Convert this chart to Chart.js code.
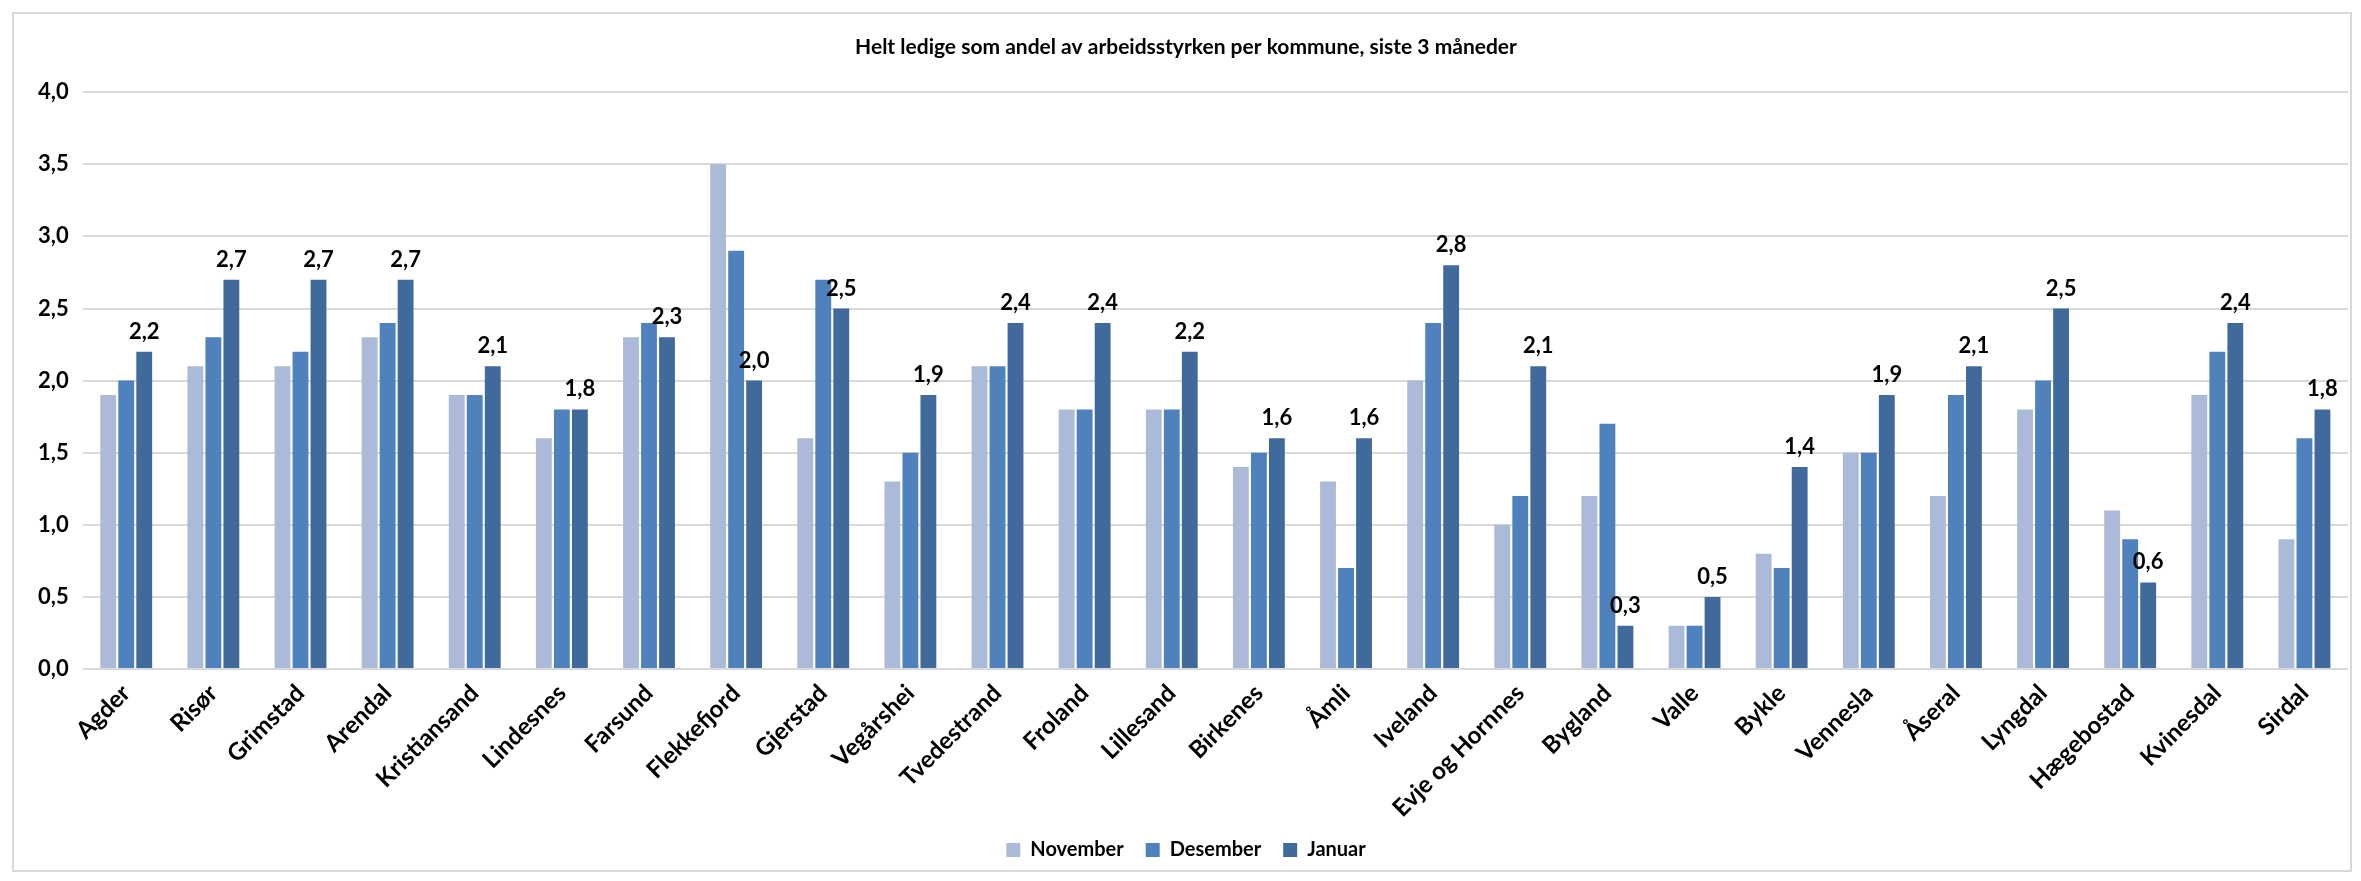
<!DOCTYPE html>
<html>
<head>
<meta charset="utf-8">
<script src="https://cdn.jsdelivr.net/npm/chart.js@4"></script>
<style>
  html, body { margin: 0; padding: 0; background: #fff; }
  #frame {
    position: absolute; left: 12px; top: 12px;
    width: 2336px; height: 856px;
    border: 2px solid #d9d9d9;
  }
</style>
</head>
<body>
<div id="frame"><canvas id="chart"></canvas></div>
<script>
const kommuner = [
  "Agder", "Risør", "Grimstad", "Arendal", "Kristiansand", "Lindesnes", "Farsund",
  "Flekkefjord", "Gjerstad", "Vegårshei", "Tvedestrand", "Froland", "Lillesand",
  "Birkenes", "Åmli", "Iveland", "Evje og Hornnes", "Bygland", "Valle", "Bykle",
  "Vennesla", "Åseral", "Lyngdal", "Hægebostad", "Kvinesdal", "Sirdal"
];

const november = [1.9, 2.1, 2.1, 2.3, 1.9, 1.6, 2.3, 3.5, 1.6, 1.3, 2.1, 1.8, 1.8, 1.4, 1.3, 2.0, 1.0, 1.2, 0.3, 0.8, 1.5, 1.2, 1.8, 1.1, 1.9, 0.9];
const desember = [2.0, 2.3, 2.2, 2.4, 1.9, 1.8, 2.4, 2.9, 2.7, 1.5, 2.1, 1.8, 1.8, 1.5, 0.7, 2.4, 1.2, 1.7, 0.3, 0.7, 1.5, 1.9, 2.0, 0.9, 2.2, 1.6];
const januar = [2.2, 2.7, 2.7, 2.7, 2.1, 1.8, 2.3, 2.0, 2.5, 1.9, 2.4, 2.4, 2.2, 1.6, 1.6, 2.8, 2.1, 0.3, 0.5, 1.4, 1.9, 2.1, 2.5, 0.6, 2.4, 1.8];

const yTicks = [0, 0.5, 1, 1.5, 2, 2.5, 3, 3.5, 4];

const FONT = "Lato, 'Liberation Sans', sans-serif";

function komma(v) {
  return Number(v).toFixed(1).replace(".", ",");
}

// values above the Januar bars
const januarLabels = {
  id: "januarLabels",
  afterDatasetsDraw(chart) {
    const ctx = chart.ctx;
    const meta = chart.getDatasetMeta(2);
    ctx.save();
    ctx.font = "bold 22px " + FONT;
    ctx.fillStyle = "#000";
    ctx.textAlign = "center";
    ctx.textBaseline = "alphabetic";
    meta.data.forEach((bar, i) => {
      ctx.fillText(komma(januar[i]), bar.x, bar.y - 13);
    });
    ctx.restore();
  }
};

const data = {
  labels: kommuner,
  datasets: [
    { label: "November", data: november, backgroundColor: "#abbad8" },
    { label: "Desember", data: desember, backgroundColor: "#4f81bd" },
    { label: "Januar", data: januar, backgroundColor: "#416a9c" },
  ],
};

const config = {
  type: "bar",
  data: data,
  plugins: [januarLabels],
  options: {
    responsive: true,
    maintainAspectRatio: false,
    animation: false,
    datasets: {
      bar: { categoryPercentage: 0.62, barPercentage: 0.88 }
    },
    layout: { padding: { left: 10, right: 2, top: 0, bottom: 0 } },
    plugins: {
      title: {
        display: true,
        text: "Helt ledige som andel av arbeidsstyrken per kommune, siste 3 måneder",
        color: "#000",
        font: { family: FONT, size: 21, weight: "bold" },
        padding: { top: 21, bottom: 32 },
      },
      legend: {
        position: "bottom",
        labels: {
          color: "#000",
          font: { family: FONT, size: 20, weight: "bold" },
          boxWidth: 14,
          boxHeight: 14,
          padding: 22,
        },
      },
      tooltip: { enabled: false },
    },
    scales: {
      x: {
        afterFit(scale) {
          scale.height = 149;
        },
        grid: { display: false, drawTicks: false },
        border: { display: false },
        ticks: {
          color: "#000",
          font: { family: FONT, size: 24, weight: "bold" },
          minRotation: 45,
          maxRotation: 45,
          padding: 10,
          autoSkip: false,
        },
      },
      y: {
        min: 0,
        max: 4,
        afterBuildTicks(axis) {
          axis.ticks = yTicks.map(v => ({ value: v }));
        },
        grid: { color: "#d9d9d9", lineWidth: 2, drawTicks: false },
        border: { display: false },
        ticks: {
          color: "#000",
          font: { family: FONT, size: 22, weight: "bold" },
          padding: 14,
          callback: v => komma(v),
        },
      },
    },
  },
};

const chart = new Chart(document.getElementById("chart"), config);
</script>
</body>
</html>
